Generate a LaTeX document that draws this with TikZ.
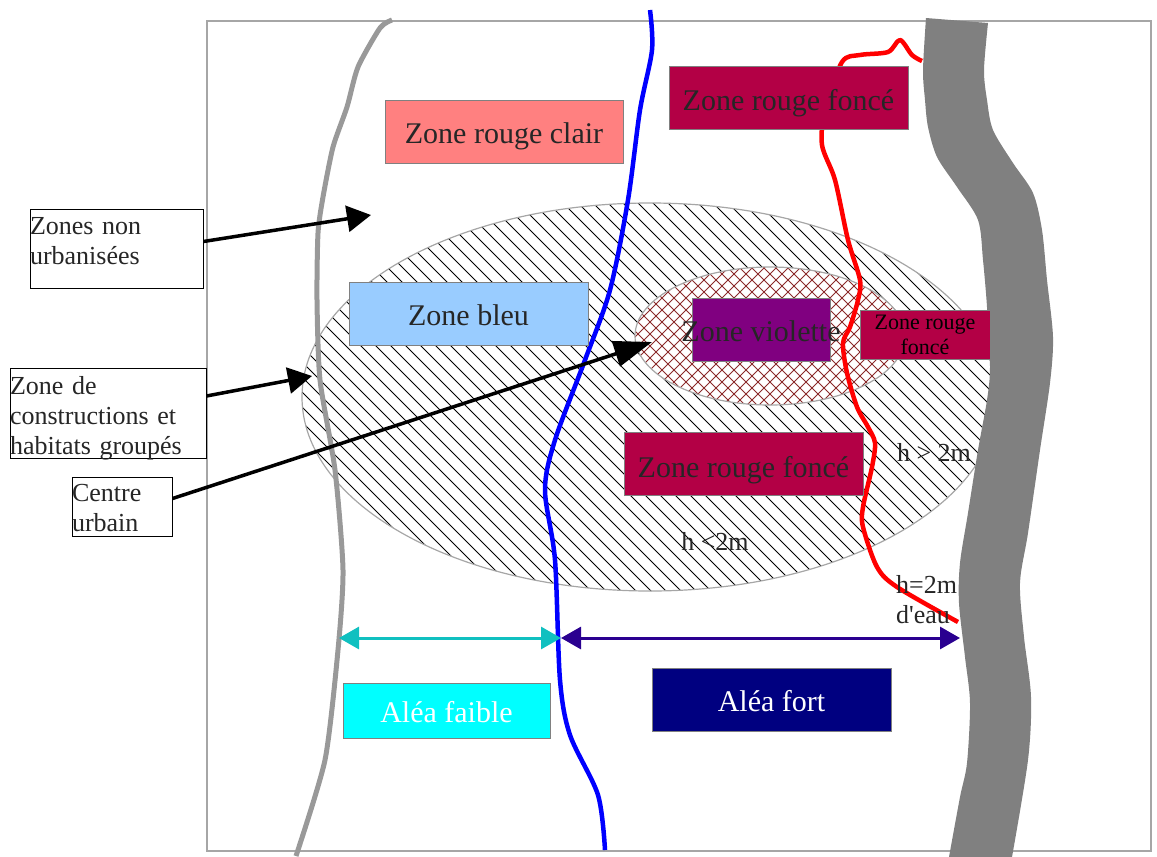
\documentclass[tikz,border=0pt]{standalone}
\usepackage{fontspec}
\setmainfont{Liberation Serif}
\usetikzlibrary{arrows.meta}
\definecolor{rougeclair}{HTML}{FF8080}
\definecolor{rougefonce}{HTML}{B30045}
\definecolor{bleuzone}{HTML}{99CCFF}
\definecolor{violet}{HTML}{800080}
\definecolor{alearouge}{HTML}{8B2A2A}
\definecolor{indigoalea}{HTML}{2A0090}
\definecolor{tealalea}{HTML}{10C0C0}
\definecolor{cyanalea}{HTML}{00FFFF}
\definecolor{marine}{HTML}{000080}
\definecolor{encre}{HTML}{262626}
\tikzset{
  zonebox/.style={draw=gray,line width=0.8pt,inner sep=0pt,align=center,text=encre,
    font=\fontsize{30}{34}\selectfont},
  notebox/.style={draw=black,fill=white,line width=1pt,inner sep=0pt,align=left,text=encre,
    text width=#1,font=\fontsize{26}{30}\selectfont},
  heightlabel/.style={inner sep=0pt,align=left,text=encre,font=\fontsize{26}{30}\selectfont},
  bigarrow/.style={-{Triangle[length=24pt,width=26pt]},line width=3.5pt,black},
  alearrow/.style={{Triangle[length=20pt,width=22pt]}-{Triangle[length=20pt,width=22pt]},line width=3pt},
}
\begin{document}
\begin{tikzpicture}[x=1pt,y=-1pt]
      \useasboundingbox (0,0) rectangle (1157,857);
      \draw[gray!70,line width=1.2pt] (207,21) rectangle (1151,851);
      \begin{scope}
        \clip (650,397) ellipse [x radius=348,y radius=194];
        \foreach \c in {-300,-285,...,800}
          \draw[black,line width=0.8pt] (\c+200,200) -- (\c+600,600);
      \end{scope}
      \draw[gray!70,line width=1.2pt] (650,397) ellipse [x radius=348,y radius=194];
      \fill[white] (770,336) ellipse [x radius=135,y radius=69];
      \begin{scope}
        \clip (770,336) ellipse [x radius=135,y radius=69];
        \foreach \c in {480,492,...,912}
          \draw[alearouge,line width=0.8pt] (\c,260) -- (\c+150,410);
        \foreach \c in {900,912,...,1320}
          \draw[alearouge,line width=0.8pt] (\c-260,260) -- (\c-410,410);
      \end{scope}
      \draw[gray!70,line width=1.2pt] (770,336) ellipse [x radius=135,y radius=69];
      \draw[gray!80,line width=5pt] plot[smooth,tension=0.4] coordinates {(392,20) (380,28) (358,67) (347,107) (333,147)
        (323,197) (318,233) (317,300) (320,380) (335,470) (343,570) (338,650) (325,760) (296,856)};
      \draw[blue,line width=4.5pt] plot[smooth] coordinates {(650,10) (652,50) (640,110) (628,200)
        (610,290) (585,360) (555,440) (545,490) (555,560) (560,680) (570,735) (598,795) (605,850)};
      \draw[red,line width=4.5pt,line join=round] plot[smooth,tension=0.5] coordinates {(922,61) (912,55) (900,40)
        (888,52) (860,55) (842,62) (825,110) (822,145) (835,180) (848,240) (860,280) (858,300) (850,327)
        (843,343) (847,373) (857,407) (868,427) (875,443) (872,467) (863,507) (863,527) (877,567) (897,587) (958,622)};
      \fill[gray] plot[smooth,tension=0.5] coordinates {(926,18) (923,70) (925,100) (928,127) (937,157) (957,187)
        (978,220) (983,260) (987,307) (990,367) (987,400) (978,450) (968,513) (960,563) (959,603)
        (965,657) (970,703) (967,763) (960,797) (949,857)}
        -- plot[smooth,tension=0.5] coordinates {(1012,857) (1028,760) (1031,697) (1024,637) (1020,583) (1028,533)
        (1040,450) (1050,383) (1053,337) (1047,280) (1042,230) (1033,193) (1013,163) (993,130) (987,100)
        (984,70) (988,23)} -- cycle;
      \draw
        (504,131.5) node[zonebox,fill=rougeclair,minimum width=238pt,minimum height=63pt,text height=30pt] (clair){Zone rouge clair}
        (788.5,97.5) node[zonebox,fill=rougefonce,minimum width=239pt,minimum height=63pt,text height=32pt] (fonceA){Zone rouge foncé}
        (468.5,313.5) node[zonebox,fill=bleuzone,minimum width=239pt,minimum height=63pt,text height=24pt] (bleu){Zone bleu}
        (761,329.5) node[zonebox,fill=violet,minimum width=138pt,minimum height=63pt] (violette){}
        (761,331) node[zonebox,draw=none] (violettetext){Zone violette}
        (925,334.5) node[zonebox,fill=rougefonce,minimum width=130pt,minimum height=49pt,
          font=\fontsize{22}{25}\selectfont,text=black] (fonceB){Zone rouge\\foncé}
        (743.5,463.5) node[zonebox,fill=rougefonce,minimum width=239pt,minimum height=63pt,text height=34pt] (fonceC){Zone rouge foncé}
        (446.5,710.5) node[zonebox,fill=cyanalea,text=white,minimum width=207pt,minimum height=55pt,text height=24pt] (faible){Aléa faible}
        (771.5,699.5) node[zonebox,fill=marine,text=white,minimum width=239pt,minimum height=63pt,text height=24pt] (fort){Aléa fort}
        (116.5,248.5) node[notebox=173pt,minimum height=79pt,text depth=46pt] (zones){Zones non\\urbanisées}
        (108,413) node[notebox=196pt,minimum height=90pt,text height=26pt,text depth=64pt] (groupes){Zone de\\constructions et\\habitats groupés}
        (122,506.5) node[notebox=100pt,minimum height=59pt,text height=21pt] (centre){Centre\\urbain}
        (934,452) node[heightlabel] (hplus){h > 2m}
        (715,541) node[heightlabel] (hmoins){h <2m}
        (896,600) node[heightlabel,anchor=west] (heau){h=2m\\d\textquotesingle eau};
      \coordinate (zonesfin) at (371,215);
      \coordinate (groupesfin) at (312,376);
      \coordinate (centrefin) at (652,342);
      \coordinate (aleagauche) at (339,638);
      \coordinate (aleamilieu) at (561,638);
      \coordinate (aleadroite) at (960,638);
      \begin{scope}[bigarrow]
        \draw ([yshift=7pt]zones.east) to (zonesfin);
        \draw ([yshift=17pt]groupes.east) to (groupesfin);
        \draw[-{Triangle[length=38pt,width=26pt]}] ([yshift=8pt]centre.east) to (centrefin);
      \end{scope}
      \draw[alearrow,tealalea] (aleagauche) to (aleamilieu);
      \draw[alearrow,indigoalea] (aleamilieu) to (aleadroite);
    \end{tikzpicture}
\end{document}
